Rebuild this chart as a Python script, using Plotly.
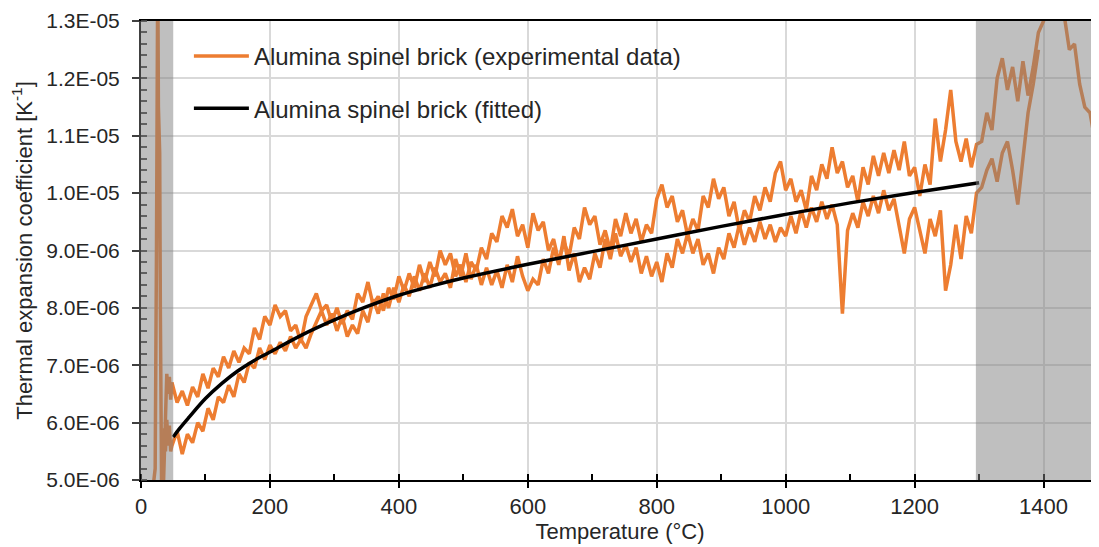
import plotly.graph_objects as go

# temperature grid of the dilatometer readings (°C)
x_left_a = [18, 22, 24, 25, 26, 27, 28, 29, 30, 31, 32, 34, 36, 38, 40, 42, 44, 46]
y_left_a = [4.8, 5.2, 9.0, 13.8, 14.0, 11.5, 10.9, 10.7, 8.0, 5.5, 4.8, 4.6, 5.4, 6.3, 6.85, 6.5, 6.8, 6.4]
x_left_b = [34, 36, 38, 40, 42, 44, 46]
y_left_b = [5.1, 5.9, 5.5, 6.05, 5.6, 5.95, 5.5]

x_main = list(range(48, 1297, 8))

# expansion coefficient, units of 1e-6 K^-1
y_main_a = [
    6.70, 6.35, 6.55, 6.30, 6.62, 6.45, 6.85, 6.60, 6.95, 6.80,
    7.15, 6.95, 7.25, 7.05, 7.30, 7.20, 7.65, 7.45, 7.85, 7.70,
    8.05, 7.85, 7.95, 7.60, 7.70, 7.40, 7.85, 8.05, 8.25, 7.95,
    8.05,
    7.75, 8.00, 7.72, 7.95, 7.80, 8.25, 8.10, 8.45, 8.05, 8.20,
    7.95, 8.35, 8.15, 8.55, 8.30, 8.60, 8.35, 8.75, 8.45, 8.80,
    8.55, 9.00, 8.75, 8.95, 8.55, 8.75, 8.45, 8.80, 8.65, 9.05,
    8.85, 9.30, 9.15, 9.60, 9.40, 9.72, 9.25, 9.45, 9.05, 9.65,
    9.35, 9.50, 9.00, 9.20, 8.80, 9.15, 8.90, 9.40, 9.20, 9.75,
    9.45, 9.60, 9.10, 9.35, 9.00, 9.55, 9.25, 9.65, 9.30, 9.55,
    9.15, 9.45, 9.30, 9.90, 10.15, 9.75, 9.95, 9.50, 9.70, 9.25,
    9.55, 9.35, 9.95, 9.75, 10.25, 9.90, 10.10, 9.60, 9.85, 9.35,
    9.70, 9.50, 9.95, 9.70, 10.10, 9.85, 10.35, 10.55, 10.05, 10.25,
    9.85, 10.05, 9.70, 10.30, 10.05, 10.50, 10.25, 10.80, 10.35, 10.55,
    10.10, 10.30, 9.85, 10.45, 10.15, 10.65, 10.30, 10.70, 10.35, 10.75,
    10.40, 10.90, 10.30, 10.45, 9.95, 10.50, 10.15, 11.30, 10.55, 11.10,
    11.80, 10.90, 10.55, 10.95, 10.45, 10.85,
]
y_main_b = [
    5.60, 5.85, 5.45, 5.80, 5.65, 6.00, 5.85, 6.25, 6.05, 6.45,
    6.35, 6.65, 6.45, 6.85, 6.70, 7.05, 6.95, 7.30, 7.10, 7.35,
    7.20, 7.40, 7.25, 7.50, 7.30, 7.45, 7.30, 7.55, 7.75, 7.95,
    7.70,
    7.90, 7.60, 7.85, 7.50, 7.70, 7.55, 7.95, 7.75, 8.15, 7.90,
    8.25, 8.00, 8.35, 8.10, 8.40, 8.20, 8.55, 8.30, 8.60, 8.35,
    8.70, 8.45, 8.60, 8.35, 8.85, 8.55, 8.95, 8.50, 8.75, 8.40,
    8.70, 8.40, 8.65, 8.35, 8.75, 8.45, 8.90, 8.55, 8.30, 8.50,
    8.40, 8.85, 8.60, 9.05, 8.75, 9.25, 8.65, 8.95, 8.45, 8.70,
    8.50, 8.95, 8.70, 9.20, 8.85, 9.30, 8.90, 9.10, 8.80, 9.05,
    8.60, 8.90, 8.55, 8.80, 8.45, 8.95, 8.70, 9.20, 8.95, 9.30,
    8.95, 9.20, 8.75, 8.95, 8.60, 9.05, 8.85, 9.30, 9.05, 9.45,
    9.10, 9.40, 9.15, 9.50, 9.20, 9.45, 9.15, 9.40, 9.25, 9.60,
    9.30, 9.70, 9.40, 9.75, 9.50, 9.85, 9.55, 9.80, 9.45, 7.90,
    9.35, 9.65, 9.40, 9.85, 9.60, 9.95, 9.65, 10.05, 9.70, 9.90,
    9.45, 8.95, 9.55, 9.75, 9.35, 8.95, 9.55, 9.25, 9.70, 8.30,
    8.75, 9.45, 8.85, 9.60, 9.30, 10.00,
]

x_right_a = [1304, 1312, 1320, 1328, 1336, 1344, 1352, 1360, 1368, 1376, 1384, 1392,
             1400, 1408, 1416, 1424, 1432, 1440, 1448, 1456, 1464, 1472, 1480, 1486]
y_right_a = [10.9, 11.4, 11.1, 12.0, 12.35, 11.8, 12.2, 11.6, 12.3, 11.7, 12.2, 12.8,
             13.0, 13.6, 13.9, 13.5, 13.1, 12.5, 12.6, 11.9, 11.5, 11.4, 10.9, 10.3]
x_right_b = [1304, 1312, 1320, 1328, 1336, 1344, 1352, 1360, 1368, 1376, 1384, 1392]
y_right_b = [10.1, 10.4, 10.6, 10.2, 10.7, 10.9, 10.4, 9.8, 10.6, 11.4, 11.9, 12.5]

x_fit = [50, 60, 75, 100, 125, 150, 175, 200, 250, 300, 350, 400, 450, 500,
         600, 700, 800, 900, 1000, 1100, 1200, 1300]
y_fit = [5.75, 5.9, 6.1, 6.42, 6.68, 6.9, 7.08, 7.23, 7.53, 7.79, 8.02, 8.22, 8.38, 8.52,
         8.76, 8.98, 9.2, 9.42, 9.63, 9.83, 10.01, 10.18]

y_ticks = [5, 6, 7, 8, 9, 10, 11, 12, 13]
y_tick_text = ["5.0E-06", "6.0E-06", "7.0E-06", "8.0E-06", "9.0E-06",
               "1.0E-05", "1.1E-05", "1.2E-05", "1.3E-05"]

# excluded ranges (shaded)
shade_ranges = [(0, 50), (1295, 1486)]

ORANGE = "#ED7D31"
SCALE = 1e-6

x_a = x_left_a + x_main + x_right_a
y_a = [v * SCALE for v in y_left_a + y_main_a + y_right_a]
x_b = x_left_b + x_main + x_right_b
y_b = [v * SCALE for v in y_left_b + y_main_b + y_right_b]

fig = go.Figure()
fig.add_scatter(x=x_a, y=y_a, mode="lines", line=dict(color=ORANGE, width=3.5),
                name="Alumina spinel brick (experimental data)", legendgroup="exp")
fig.add_scatter(x=x_b, y=y_b, mode="lines", line=dict(color=ORANGE, width=3.5),
                showlegend=False, legendgroup="exp")
fig.add_scatter(x=x_fit, y=[v * SCALE for v in y_fit], mode="lines", line_shape="spline",
                line=dict(color="black", width=3.5),
                name="Alumina spinel brick (fitted)", legendgroup="fit")

for x0, x1 in shade_ranges:
    fig.add_shape(type="rect", xref="x", yref="paper", x0=x0, x1=x1, y0=0, y1=1,
                  fillcolor="rgba(127,127,127,0.5)", line_width=0, layer="above")

FONT = "Liberation Sans, Arial, sans-serif"

# page body adds an 8px offset, so the figure is 8px smaller than the window
fig.update_layout(
    width=1091, height=539,
    margin=dict(l=133, r=0, t=13, b=67),
    plot_bgcolor="white", paper_bgcolor="white",
    font=dict(family=FONT, size=22, color="#262626"),
    showlegend=True,
    legend=dict(x=0.05, y=0.972, xanchor="left", yanchor="top", itemwidth=55,
                bgcolor="rgba(0,0,0,0)", traceorder="grouped", tracegroupgap=18,
                font=dict(family=FONT, size=24, color="#262626")),
)
fig.update_xaxes(
    range=[0, 1486], dtick=200, tick0=0, automargin=False,
    showgrid=True, gridcolor="#D9D9D9", gridwidth=1.5,
    showline=True, linecolor="black", linewidth=2, mirror=True,
    ticks="outside", ticklen=6, tickcolor="black", tickwidth=1.5,
    minor=dict(dtick=100, ticks="inside", ticklen=6, tickcolor="black", showgrid=False),
    tickfont=dict(size=22),
    title=dict(text="Temperature (°C)", standoff=0, font=dict(size=22)),
    zeroline=False,
)
fig.update_yaxes(
    range=[5 * SCALE, 13 * SCALE], automargin=False,
    tickvals=[v * SCALE for v in y_ticks], ticktext=y_tick_text,
    showgrid=True, gridcolor="#D9D9D9", gridwidth=1.5,
    showline=True, linecolor="#404040", linewidth=2,
    ticks="outside", ticklen=7, tickcolor="#404040", tickwidth=1.5,
    ticklabelstandoff=8,
    minor=dict(dtick=0.2 * SCALE, tick0=5 * SCALE, ticks="inside", ticklen=6,
               tickcolor="#404040", showgrid=False),
    tickfont=dict(size=21),
    title=dict(text="Thermal expansion coefficient [K<sup>-1</sup>]", standoff=8,
               font=dict(size=22)),
    zeroline=False,
)

fig.write_html("out.html")
